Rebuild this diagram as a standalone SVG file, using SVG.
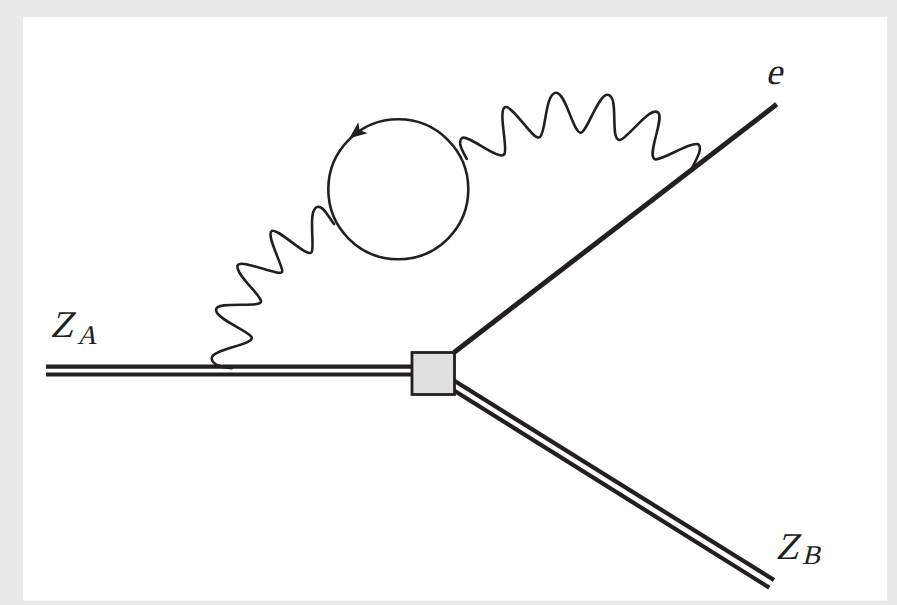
<svg xmlns="http://www.w3.org/2000/svg" width="897" height="605" viewBox="0 0 897 605">
<style>
.ln{fill:none;stroke:#231f20;stroke-width:4.2}
.w{fill:none;stroke:#231f20;stroke-width:2.6;stroke-linecap:round}
text{font-family:'Liberation Serif',serif;fill:#231f20}
</style>
<rect width="897" height="605" fill="#e9e9e9"/>
<rect x="23" y="17" width="864" height="583.5" fill="#fff"/>
<g id="connectors">
<path id="za-upper" class="ln" d="M46,366.7H412"/>
<path id="za-lower" class="ln" d="M46,374.5H412"/>
<path id="e-line" class="ln" style="stroke-width:5" d="M454,352.5L776.7,104.3"/>
<path id="zb-upper" class="ln" d="M454,380.5L774,580"/>
<path id="zb-lower" class="ln" d="M454,390.5L769.3,587.7"/>
<path id="photon-left" class="w" d="M231.7,368.3C225,368 212,366 211.7,358.3C211.5,349 255,345 251.5,337C249,331 216,319 216,310C216,300 263,309 261,301C259,293 236,275 237.5,266C239,257 283,279 282.3,271C281.5,263 266,235 271.7,231C277,227 308,259 311.7,252C315,245 307,207 318.3,206.7C324,206.5 329,218 334,224"/>
<path id="photon-right" class="w" d="M466.7,159C463,152 457,142 462,138C468,134 500,162 504.5,154C508,147 497,107 506,107C514,107 534,142 540,137C546,133 545,93 556,92.7C566,92.5 573,133 580.7,132.7C587,132 598,95 607.3,94.7C620,94.5 609,141 620,140C627,139 650,106 658,112.5C665,118 646,156 655,159.3C662,161 694,139 699,145C702,150 697,158 692.7,166.7"/>
</g>
<g id="loop">
<circle cx="398.3" cy="189.3" r="70" fill="none" stroke="#231f20" stroke-width="2.6"/>
<path d="M349.3,138.3L358.3,122.3L359.5,130L367.7,133.3Z" fill="#231f20"/>
</g>
<g id="vertex">
<rect x="412" y="352.5" width="42.5" height="42" fill="#e0e0e0" stroke="#231f20" stroke-width="2.8"/>
</g>
<g id="label-za">
<text transform="translate(50,336.7) skewX(-14)" font-size="38">Z</text>
<text transform="translate(77,343.5) skewX(-14)" font-size="27">A</text>
</g>
<g id="label-e">
<text transform="translate(765.5,84) skewX(-14)" font-size="37">e</text>
</g>
<g id="label-zb">
<text transform="translate(775.5,559.3) skewX(-14)" font-size="38">Z</text>
<text transform="translate(802,564) skewX(-14)" font-size="27">B</text>
</g>
</svg>
